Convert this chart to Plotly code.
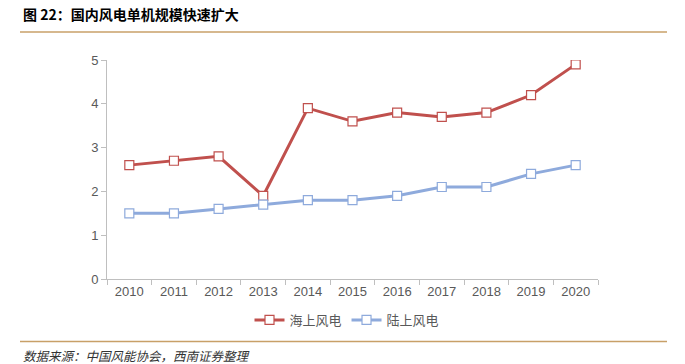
import plotly.graph_objects as go

years = ["2010", "2011", "2012", "2013", "2014", "2015", "2016", "2017", "2018", "2019", "2020"]
offshore = [2.6, 2.7, 2.8, 1.9, 3.9, 3.6, 3.8, 3.7, 3.8, 4.2, 4.9]
onshore = [1.5, 1.5, 1.6, 1.7, 1.8, 1.8, 1.9, 2.1, 2.1, 2.4, 2.6]
series_names = ["海上风电", "陆上风电"]
title_text = "图 22：国内风电单机规模快速扩大"
source_text = "数据来源：中国风能协会，西南证券整理"

L, R, T, B = 107, 598, 60, 279
W, H = 685, 364
def px(x): return (x - L) / (R - L)
def py(y): return (B - y) / (B - T)

fig = go.Figure()
fig.add_trace(go.Scatter(x=years, y=offshore, name=series_names[0], mode="lines+markers",
                         line=dict(color="#c0504d", width=3),
                         marker=dict(symbol="square", size=9, color="white",
                                     line=dict(color="#c0504d", width=1.2))))
fig.add_trace(go.Scatter(x=years, y=onshore, name=series_names[1], mode="lines+markers",
                         line=dict(color="#8eaadc", width=3),
                         marker=dict(symbol="square", size=9, color="white",
                                     line=dict(color="#8eaadc", width=1.2))))

font_cjk = "Noto Sans CJK SC"
tan = "#c8a068"
fig.update_layout(
    width=W, height=H,
    margin=dict(l=L, r=W - R, t=T, b=H - B, autoexpand=False),
    paper_bgcolor="white", plot_bgcolor="white",
    font=dict(family="Liberation Sans, Arial", color="#595959", size=13),
    showlegend=True,
    legend=dict(orientation="h", x=px(347), xanchor="center", y=py(320), yanchor="middle",
                font=dict(family=font_cjk, size=13, color="#595959"),
                traceorder="normal"),
    xaxis=dict(type="category", range=[-0.5, len(years) - 0.5], showgrid=False, showline=True,
               linecolor="#bfbfbf", ticks="outside", tickson="boundaries", ticklen=5,
               tickcolor="#bfbfbf", tickfont=dict(size=13, color="#595959")),
    yaxis=dict(range=[0, 5], dtick=1, showgrid=False, showline=True, linecolor="#bfbfbf",
               ticks="outside", ticklen=5, tickcolor="#bfbfbf", zeroline=False,
               tickfont=dict(size=13, color="#595959")),
    shapes=[
        dict(type="line", xref="paper", yref="paper", x0=px(20), x1=px(667), y0=py(32), y1=py(32),
             line=dict(color=tan, width=1.5)),
        dict(type="line", xref="paper", yref="paper", x0=px(20), x1=px(667), y0=py(341.5), y1=py(341.5),
             line=dict(color=tan, width=1.5)),
    ],
    annotations=[
        dict(text="<b>" + title_text + "</b>", xref="paper", yref="paper", x=px(21), y=py(14),
             xanchor="left", yanchor="middle", showarrow=False,
             font=dict(family=font_cjk, size=14, color="#000000")),
        dict(text="<i>" + source_text + "</i>", xref="paper", yref="paper", x=px(21), y=py(355),
             xanchor="left", yanchor="middle", showarrow=False,
             font=dict(family=font_cjk, size=12.5, color="#333333")),
    ],
)
fig.write_html("out.html", config={"displayModeBar": False},
               post_script="document.body.style.margin='0';document.body.style.overflow='hidden';")
